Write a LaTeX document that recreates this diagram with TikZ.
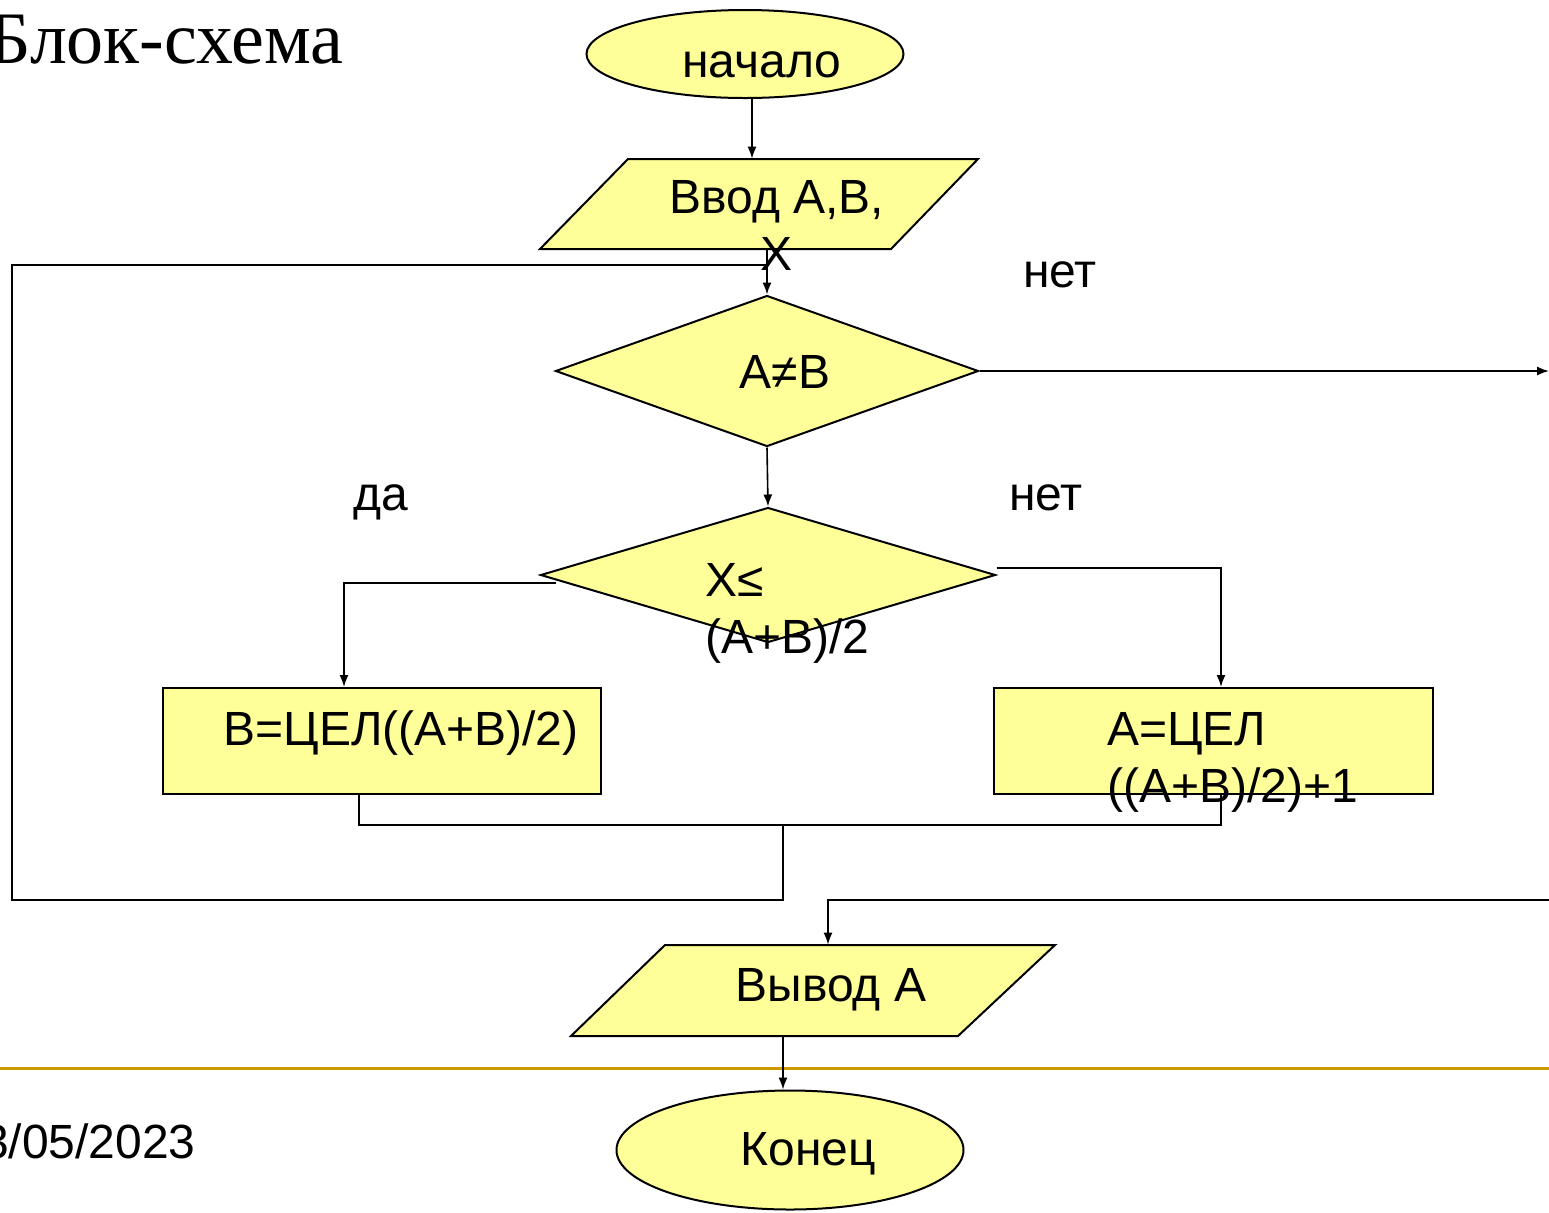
\documentclass[tikz,border=0pt]{standalone}
\usepackage{fontspec}
\newfontfamily\sansA{Liberation Sans}
\newfontfamily\serifT{Liberation Serif}
\usetikzlibrary{shapes.geometric,arrows.meta}
\definecolor{fillY}{HTML}{FFFF99}
\definecolor{goldL}{HTML}{CC9900}
\tikzset{
  box/.style={draw, fill=fillY, line width=1pt, inner sep=0pt},
  conn/.style={line width=0.8pt},
  arr/.style={conn, -{Latex[length=6pt,width=4.5pt]}},
  lbl/.style={font=\sansA\fontsize{24}{28.5}\selectfont, inner sep=0pt},
  frame/.style={rectangle, inner sep=0pt},
}
\begin{document}
\begin{tikzpicture}[x=0.5pt,y=-0.5pt]
\useasboundingbox (0,0) rectangle (1549,1212);
% footer line
\draw[goldL, line width=1.5pt] (0,1068) -- (1549,1068);
% shapes
\node[box, ellipse, minimum width=158.5pt, minimum height=44pt] (start) at (745,54) {};
\node[frame, minimum width=219pt, minimum height=45pt] (in) at (759,204) {};
\draw[box] (628,159) -- (978,159) -- (891,249) -- (540,249) -- cycle;
\node[box, diamond, minimum width=211.5pt, minimum height=75.5pt] (d1) at (767,371) {};
\node[box, diamond, minimum width=227.5pt, minimum height=67.5pt] (d2) at (768,575) {};
\node[box, rectangle, minimum width=219pt, minimum height=53pt] (bl) at (382,741) {};
\node[box, rectangle, minimum width=219.5pt, minimum height=53pt] (br) at (1213.5,741) {};
\node[frame, minimum width=242pt, minimum height=45.5pt] (out) at (813,990.5) {};
\draw[box] (665,945) -- (1055,945) -- (958,1036) -- (571,1036) -- cycle;
\node[box, ellipse, minimum width=173.5pt, minimum height=59.5pt] (end) at (790,1150) {};
% free-end coordinates
\coordinate (rEnd) at (1549,371);
\coordinate (rIn) at (1549,900);
\coordinate (join) at (783,825);
\coordinate (entry) at (767,265);
\coordinate (loopL) at (12,900);
% connectors
\draw[arr] ([xshift=3.5pt]start.south) -- ([xshift=3.5pt]start.south |- in.north);
\draw[arr] (d1.north |- in.south) -- (d1.north);
\draw[arr] (d1.east) -- (rEnd);
\draw[arr] (d1.south) -- (d2.north);
\draw[arr] ([xshift=8pt,yshift=-4pt]d2.west) -| ([xshift=-19pt]bl.north);
\draw[arr] ([yshift=3.5pt]d2.east) -| ([xshift=3.75pt]br.north);
\draw[conn] ([xshift=-11.5pt]bl.south) |- (join) -| ([xshift=3.75pt]br.south);
\draw[conn] (join) |- (loopL) |- (entry);
\draw[arr] (rIn) -| ([xshift=7.5pt]out.north);
\draw[arr] ([xshift=-15pt]out.south) -- ([xshift=-15pt]out.south |- end.north);
% texts
\node[font=\serifT\fontsize{37}{40}\selectfont, inner sep=0pt, anchor=base east] (title) at (344,63) {Блок-схема};
\node[lbl, anchor=base] (tStart) at (762,77) {начало};
\node[lbl, anchor=base, align=center] (tIn) at (777,270) {Ввод А,В,\\X};
\node[lbl, anchor=base] (tD1) at (785,388) {А≠В};
\node[lbl, anchor=base] (tNo1) at (1060,287) {нет};
\node[lbl, anchor=base] (tYes) at (381,510) {да};
\node[lbl, anchor=base] (tNo2) at (1046,510) {нет};
\node[lbl, anchor=base west, align=left] (tD2) at (705,653) {X≤\\(A+B)/2};
\node[lbl, anchor=base] (tBL) at (401,745) {В=ЦЕЛ((А+В)/2)};
\node[lbl, anchor=base west, align=left] (tBR) at (1107,802) {А=ЦЕЛ\\((А+В)/2)+1};
\node[lbl, anchor=base] (tOut) at (831,1001) {Вывод А};
\node[lbl, anchor=base] (tEnd) at (808,1165) {Конец};
\node[lbl, anchor=base east] (date) at (196,1158) {3/05/2023};
\end{tikzpicture}
\end{document}
